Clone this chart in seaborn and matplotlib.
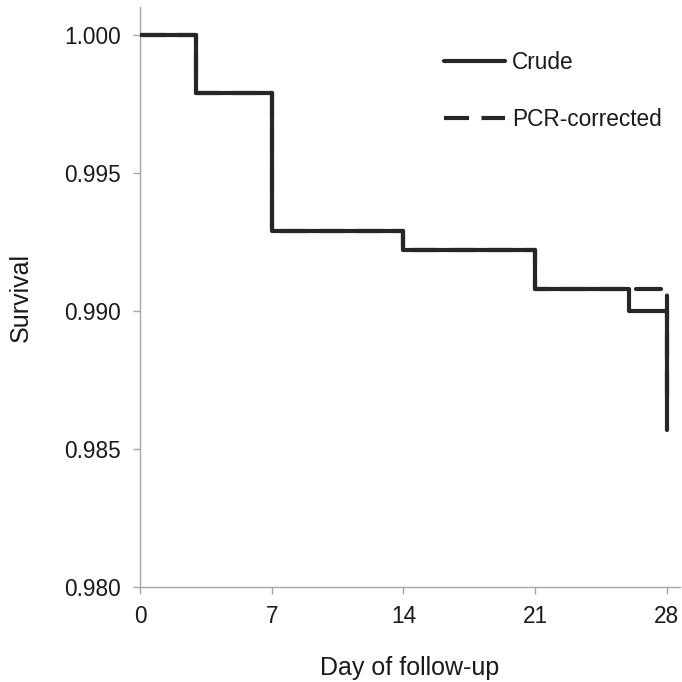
import matplotlib
matplotlib.use("Agg")
import matplotlib.pyplot as plt
import seaborn as sns
import pandas as pd
from matplotlib.lines import Line2D

# Data
crude_days = [0, 3, 7, 14, 21, 26, 28]
crude_surv = [1.000, 0.9979, 0.9929, 0.9922, 0.9908, 0.9900, 0.9857]
pcr_days = [0, 3, 7, 14, 21, 28]
pcr_surv = [1.000, 0.9979, 0.9929, 0.9922, 0.9908, 0.9866]
series_labels = ["Crude", "PCR-corrected"]
x_ticks = [0, 7, 14, 21, 28]
y_ticks = [0.980, 0.985, 0.990, 0.995, 1.000]

sns.set_theme(style="white")
plt.rcParams['font.family'] = ['Liberation Sans', 'DejaVu Sans']

line_color = "#262626"
spine_color = "#A6A6A6"

fig = plt.figure(figsize=(6.82, 6.82), dpi=100)
ax = fig.add_axes([140/682, 1 - 587/682, 540/682, 580/682])

df_pcr = pd.DataFrame({"day": pcr_days, "surv": pcr_surv})
df_crude = pd.DataFrame({"day": crude_days, "surv": crude_surv})

sns.lineplot(data=df_pcr, x="day", y="surv", ax=ax, color=line_color,
             linewidth=3, drawstyle="steps-post", linestyle=(0, (6, 3)),
             dash_capstyle="round", solid_capstyle="round", zorder=2)
sns.lineplot(data=df_crude, x="day", y="surv", ax=ax, color=line_color,
             linewidth=3, drawstyle="steps-post", solid_capstyle="round",
             solid_joinstyle="round", zorder=3)

ax.set_xlim(0, 28.7)
ax.set_ylim(0.980, 1.001)
ax.set_xticks(x_ticks)
ax.set_xticklabels([str(t) for t in x_ticks])
ax.set_yticks(y_ticks)
ax.set_yticklabels([f"{t:.3f}" for t in y_ticks])

for s in ["top", "right"]:
    ax.spines[s].set_visible(False)
for s in ["left", "bottom"]:
    ax.spines[s].set_color(spine_color)
    ax.spines[s].set_linewidth(1.0)

ax.tick_params(axis="both", which="major", length=5, width=1, color=spine_color,
               labelsize=16.3, labelcolor="#1a1a1a", direction="out",
               left=True, bottom=True)
ax.tick_params(axis="y", pad=9)
ax.tick_params(axis="x", pad=8)

ax.set_xlabel("Day of follow-up", fontsize=18, color="#1a1a1a")
ax.set_ylabel("Survival", fontsize=18, color="#1a1a1a")
ax.xaxis.set_label_coords(0.5, -0.119)
ax.yaxis.set_label_coords(-0.198, 0.5)

handles = [
    Line2D([0], [0], color=line_color, linewidth=3),
    Line2D([0], [0], color=line_color, linewidth=3, linestyle=(0, (6, 3))),
]
fig.legend(handles, series_labels, loc="center",
           bbox_to_anchor=(553/682, 1 - 91/682), frameon=False,
           fontsize=16.3, handlelength=2.7, handletextpad=0.3,
           labelspacing=1.5, labelcolor="#1a1a1a")

fig.savefig("out.png", dpi=100)
